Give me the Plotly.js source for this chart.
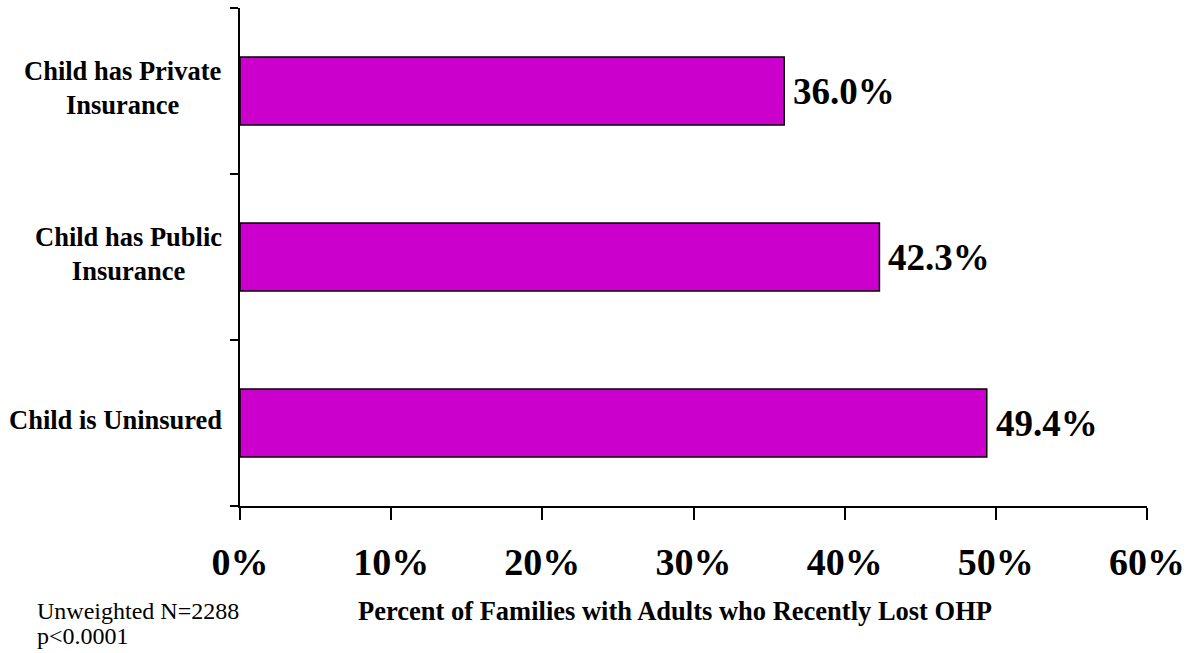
<!DOCTYPE html>
<html>
<head>
<meta charset="utf-8">
<script src="https://cdn.plot.ly/plotly-3.0.1.min.js"></script>
<style>html,body{margin:0;padding:0;background:#fff;}#chart{width:1196px;height:653px;}</style>
</head>
<body>
<div id="chart"></div>
<script>
const categories = ["Child is Uninsured", "Child has Public<br>Insurance", "Child has Private<br>Insurance"];
const values = [49.4, 42.3, 36.0];
const valueLabels = ["49.4%", "42.3%", "36.0%"];
const xTickValues = [0, 10, 20, 30, 40, 50, 60];
const xTickLabels = ["0%", "10%", "20%", "30%", "40%", "50%", "60%"];
const xTitle = "Percent of Families with Adults who Recently Lost OHP";
const noteLines = ["Unweighted N=2288", "p<0.0001"];

const FONT = "Liberation Serif, Times New Roman, serif";

const trace = {
  type: "bar",
  orientation: "h",
  x: values,
  y: categories,
  marker: {color: "#CC00CC", line: {color: "#000", width: 1.5}},
  hoverinfo: "none"
};

const annotations = [];
categories.forEach((c, i) => {
  annotations.push({
    x: values[i], y: c, xref: "x", yref: "y",
    text: "<b>" + valueLabels[i] + "</b>",
    showarrow: false, xanchor: "left", yanchor: "middle", xshift: 7,
    font: {family: FONT, size: 37, color: "#000"}
  });
  annotations.push({
    x: 0, y: c, xref: "paper", yref: "y",
    text: "<b>" + c + "</b>",
    showarrow: false, xanchor: "right", yanchor: "middle", align: "center", xshift: -16, yshift: 3,
    font: {family: FONT, size: 26.5, color: "#000"}
  });
});
annotations.push({
  x: 0.4796, y: -0.2108, xref: "paper", yref: "paper",
  text: "<b>" + xTitle + "</b>", showarrow: false,
  xanchor: "center", yanchor: "middle",
  font: {family: FONT, size: 26.5, color: "#000"}
});
const noteY = [-0.2108, -0.261];
noteLines.forEach((t, i) => {
  annotations.push({
    x: -0.2255, y: noteY[i], xref: "paper", yref: "paper",
    text: t, showarrow: false, align: "left",
    xanchor: "left", yanchor: "middle",
    font: {family: FONT, size: 24, color: "#000"}
  });
});

const layout = {
  width: 1196, height: 653,
  margin: {l: 240, r: 49, t: 8, b: 147},
  paper_bgcolor: "#fff", plot_bgcolor: "#fff",
  showlegend: false,
  bargap: 0.59,
  font: {family: FONT, color: "#000"},
  xaxis: {
    range: [0, 60],
    tickvals: xTickValues, ticktext: xTickLabels,
    showgrid: false, zeroline: false,
    showline: true, linecolor: "#000", linewidth: 2,
    ticks: "outside", ticklen: 12, tickwidth: 2, tickcolor: "#000",
    tickfont: {family: FONT, size: 38, color: "#000", weight: "bold"},
    ticklabelstandoff: 9
  },
  yaxis: {
    type: "category",
    categoryorder: "array", categoryarray: categories,
    range: [-0.5, 2.5],
    showgrid: false, zeroline: false,
    showline: true, linecolor: "#000", linewidth: 2,
    ticks: "outside", ticklen: 8, tickwidth: 2, tickcolor: "#000",
    tickson: "boundaries",
    showticklabels: false
  },
  annotations: annotations
};

Plotly.newPlot("chart", [trace], layout, {displayModeBar: false, staticPlot: true});
</script>
</body>
</html>
